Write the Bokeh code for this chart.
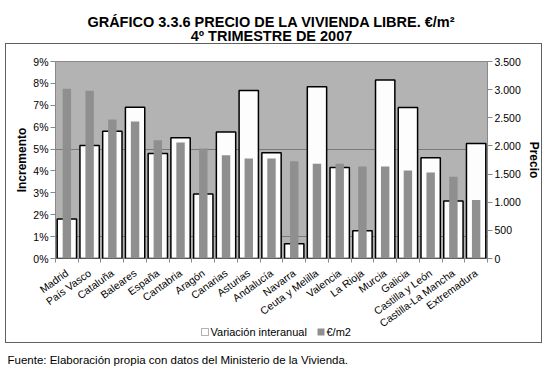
import math
from bokeh.plotting import figure
from bokeh.layouts import column
from bokeh.models import (Range1d, LinearAxis, FixedTicker, CustomJSTickFormatter,
                          Label, BoxAnnotation, ColumnDataSource, InlineStyleSheet)
from bokeh.embed import file_html
from bokeh.resources import INLINE

# ---- data ----
cats = ["Madrid", "País Vasco", "Cataluña", "Baleares", "España", "Cantabria",
        "Aragón", "Canarias", "Asturias", "Andalucía", "Navarra", "Ceuta y Melilla",
        "Valencia", "La Rioja", "Murcia", "Galicia", "Castilla y León",
        "Castilla-La Mancha", "Extremadura"]
variacion = [1.80, 5.16, 5.81, 6.91, 4.80, 5.52, 2.95, 5.78, 7.67, 4.83,
             0.67, 7.85, 4.16, 1.27, 8.15, 6.90, 4.60, 2.63, 5.25]
precio = [3018, 2982, 2470, 2435, 2100, 2059, 1953, 1835, 1776, 1776,
          1729, 1682, 1682, 1635, 1635, 1565, 1529, 1453, 1041]
left_ticks = list(range(0, 10))
right_ticks = list(range(0, 3501, 500))
grid_ticks = [1, 5]
title_lines = ["GRÁFICO 3.3.6 PRECIO DE LA VIVIENDA LIBRE. €/m²", "4º TRIMESTRE DE 2007"]
legend_labels = ["Variación interanual", "€/m2"]
fuente = "Fuente: Elaboración propia con datos del Ministerio de la Vivienda."

FONT = "Liberation Sans"
W = 550
HT = 43            # title strip
HA = 301           # chart (page 43 .. 344)
B_TOP = 320        # legend/source strip starts here (overlaps chart bottom)
HB = 373 - B_TOP
WHITE_BAR = "#fdfdfd"
GRAY_BAR = "#8f8f8f"


def no_frame_align(fig):
    try:
        fig.frame_align = False
    except AttributeError:
        pass


def blank_strip(height, **kw):
    f = figure(width=W, height=height, output_backend="svg", toolbar_location=None,
               title_location=None, x_axis_type=None, y_axis_type=None,
               x_range=Range1d(0, 1), y_range=Range1d(0, 1), min_border=0, **kw)
    f.outline_line_color = None
    f.background_fill_color = None
    f.border_fill_color = None
    no_frame_align(f)
    return f


xc = [i + 0.5 for i in range(len(cats))]
src = ColumnDataSource(dict(x=xc, cat=cats, var=variacion, pre=precio))

# ---------------- title strip ----------------
t = blank_strip(HT)
t.add_layout(Label(x=271, y=21, x_units="canvas", y_units="canvas", text=title_lines[0],
                   text_align="center", text_baseline="alphabetic", text_font=FONT,
                   text_font_style="bold", text_font_size="14.5px", text_color="black"))
t.add_layout(Label(x=271, y=35, x_units="canvas", y_units="canvas", text=title_lines[1],
                   text_align="center", text_baseline="alphabetic", text_font=FONT,
                   text_font_style="bold", text_font_size="14.5px", text_color="black"))

# ---------------- main chart ----------------
p = figure(width=W, height=HA, output_backend="svg", toolbar_location=None,
           title_location=None,
           x_range=Range1d(0, len(cats)), y_range=Range1d(0, 9),
           min_border_left=55, min_border_right=63, min_border_top=61 - HT,
           min_border_bottom=HT + HA - 258)
no_frame_align(p)
p.extra_y_ranges = {"precio": Range1d(0, 3500)}

p.background_fill_color = "#b3b3b3"
p.border_fill_color = "white"
p.outline_line_color = "#888888"

p.vbar(x="x", top="var", width=0.85, bottom=0, source=src,
       fill_color=WHITE_BAR, line_color="black", line_width=1.5)
p.vbar(x="x", top="pre", width=0.37, bottom=0, source=src, y_range_name="precio",
       fill_color=GRAY_BAR, line_color=None)

p.xgrid.visible = False
p.ygrid.ticker = FixedTicker(ticks=grid_ticks)
p.ygrid.grid_line_color = "#7a7a7a"

xa = p.xaxis[0]
xa.ticker = FixedTicker(ticks=xc, minor_ticks=list(range(len(cats) + 1)))
xa.formatter = CustomJSTickFormatter(args=dict(names=cats),
                                     code="return names[Math.floor(tick)] || '';")
xa.major_label_orientation = math.radians(36)
xa.major_tick_line_color = None
xa.major_tick_out = 0
xa.major_tick_in = 0
xa.minor_tick_line_color = "#888888"
xa.minor_tick_out = 4
xa.minor_tick_in = 0
xa.axis_line_color = None
xa.major_label_standoff = 9
xa.major_label_text_font = FONT
xa.major_label_text_font_size = "10.5px"
xa.major_label_text_color = "black"

ya = p.yaxis[0]
ya.ticker = FixedTicker(ticks=left_ticks)
ya.formatter = CustomJSTickFormatter(code="return tick.toFixed(0) + '%';")
ya.axis_line_color = None
ya.major_tick_line_color = "#888888"
ya.major_tick_out = 5
ya.major_tick_in = 0
ya.minor_tick_line_color = None
ya.major_label_standoff = 2
ya.major_label_text_font = FONT
ya.major_label_text_font_size = "10.5px"
ya.major_label_text_color = "black"
ya.axis_label = "Incremento"
ya.axis_label_text_font = FONT
ya.axis_label_text_font_style = "bold"
ya.axis_label_text_font_size = "12px"
ya.axis_label_text_color = "black"
ya.axis_label_standoff = 1

ra = LinearAxis(y_range_name="precio", ticker=FixedTicker(ticks=right_ticks))
ra.formatter = CustomJSTickFormatter(code="""
var t = Math.round(tick);
if (t >= 1000) { var r = String(t % 1000); while (r.length < 3) r = '0' + r; return Math.floor(t/1000) + '.' + r; }
return String(t);""")
ra.axis_line_color = None
ra.major_tick_line_color = "#888888"
ra.major_tick_out = 5
ra.major_tick_in = 0
ra.minor_tick_line_color = None
ra.major_label_standoff = 2
ra.major_label_text_font = FONT
ra.major_label_text_font_size = "10.5px"
ra.major_label_text_color = "black"
ra.axis_label = "Precio"
ra.axis_label_text_font = FONT
ra.axis_label_text_font_style = "bold"
ra.axis_label_text_font_size = "12px"
ra.axis_label_text_color = "black"
ra.axis_label_standoff = 3
p.add_layout(ra, "right")

# ---------------- legend + source strip (overlaps the chart's bottom margin) ----------------
q = blank_strip(HB, margin=(B_TOP - HT - HA, 0, 0, 0))


def canvas_box(l, r, tp, b, **kw):
    return BoxAnnotation(left=l, right=r, top=tp, bottom=b,
                         left_units="canvas", right_units="canvas",
                         top_units="canvas", bottom_units="canvas", **kw)


LY = 331.5 - B_TOP
q.add_layout(canvas_box(201, 208, LY - 3.5, LY + 3.5, fill_color=WHITE_BAR, fill_alpha=1,
                        line_color="black", line_width=1))
q.add_layout(Label(x=210, y=LY, x_units="canvas", y_units="canvas",
                   text=legend_labels[0], text_align="left", text_baseline="middle",
                   text_font=FONT, text_font_size="11px", text_color="black"))
q.add_layout(canvas_box(317, 324, LY - 3.5, LY + 3.5, fill_color=GRAY_BAR, fill_alpha=1,
                        line_color=None))
q.add_layout(Label(x=326, y=LY, x_units="canvas", y_units="canvas",
                   text=legend_labels[1], text_align="left", text_baseline="middle",
                   text_font=FONT, text_font_size="11px", text_color="black"))
q.add_layout(Label(x=7, y=359 - B_TOP, x_units="canvas", y_units="canvas",
                   text=fuente, text_align="left", text_baseline="alphabetic",
                   text_font=FONT, text_font_size="11.5px", text_color="black"))

frame_css = InlineStyleSheet(css="""
:host { position: relative; }
:host::after {
  content: ""; position: absolute; left: 5px; top: 43px; width: 537px; height: 300px;
  box-sizing: border-box; border: 1px solid #606060; pointer-events: none; z-index: 10;
}
""")

layout = column(t, p, q, spacing=0, stylesheets=[frame_css])

open("out.html", "w").write(file_html(layout, INLINE))
